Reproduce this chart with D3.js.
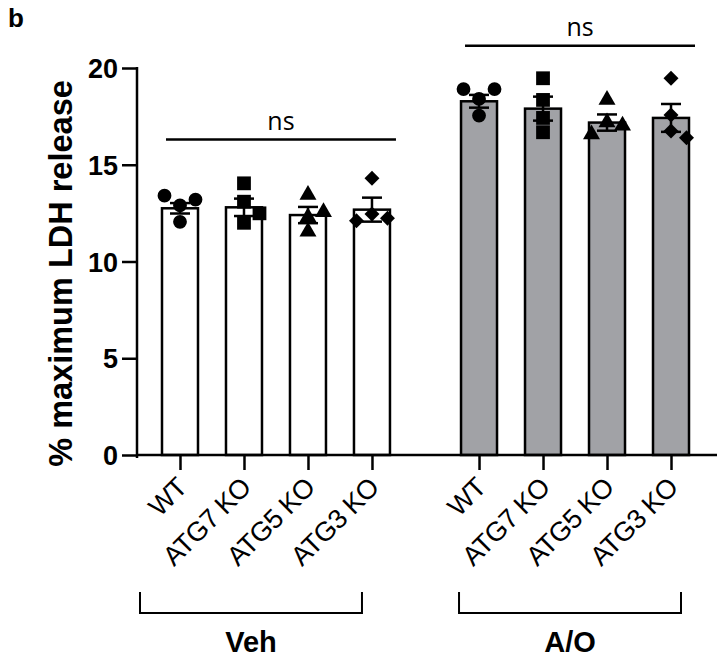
<!DOCTYPE html>
<html>
<head>
<meta charset="utf-8">
<script src="https://cdn.jsdelivr.net/npm/d3@7"></script>
<style>
  body { margin: 0; background: #fff; }
  text { font-family: Arial, "Liberation Sans", sans-serif; fill: #000; }
</style>
</head>
<body>
<div class="canvas"></div>
<script>
// data
const groups = ['Veh', 'A/O'];
const genotypes = ['WT', 'ATG7 KO', 'ATG5 KO', 'ATG3 KO'];
const yTicks = [0, 5, 10, 15, 20];

const vehMeans = [12.75, 12.8, 12.4, 12.68];
const vehSems = [0.27, 0.45, 0.42, 0.62];
const aoMeans = [18.28, 17.9, 17.18, 17.42];
const aoSems = [0.33, 0.62, 0.42, 0.72];

// individual replicates (one array per genotype)
const vehPoints = [
  [12.9, 13.2, 13.4, 12.05],
  [13.09, 12.49, 12.0, 14.04],
  [12.3, 12.55, 13.45, 11.55],
  [12.45, 12.23, 12.11, 14.3]
];
const aoPoints = [
  [18.4, 18.91, 18.91, 17.54],
  [19.47, 18.35, 17.42, 16.68],
  [17.19, 17.02, 16.57, 18.35],
  [17.57, 16.74, 16.4, 19.47]
];

// height of the "ns" comparison line for each group
const nsLevels = [16.3, 21.15];

const width = 728, height = 662;

const svg = d3.select('.canvas')
  .append('svg')
  .attr('width', width)
  .attr('height', height);

const y = d3.scaleLinear().domain([0, 20]).range([455, 68]);

const xGroup = d3.scaleBand()
  .domain(groups)
  .range([148, 703])
  .paddingInner(0.144)
  .paddingOuter(0);

const xInner = d3.scaleBand()
  .domain(genotypes)
  .range([0, xGroup.bandwidth()])
  .paddingInner(0.4375)
  .paddingOuter(0.21875);

const cx = (g, k) => xGroup(g) + xInner(k) + xInner.bandwidth() / 2;

const table = [];
groups.forEach((g, gi) => {
  const means = gi === 0 ? vehMeans : aoMeans;
  const sems = gi === 0 ? vehSems : aoSems;
  const pts = gi === 0 ? vehPoints : aoPoints;
  genotypes.forEach((k, ki) => {
    table.push({ group: g, geno: k, gi, ki, mean: means[ki], sem: sems[ki], points: pts[ki] });
  });
});

const fills = ['#ffffff', '#a1a2a6'];
const shapes = [d3.symbolCircle, d3.symbolSquare, d3.symbolTriangle, d3.symbolSquare];
const shapeSize = [150, 190, 125, 112];

// spread points that sit at nearly the same height
function spread(vals) {
  const placed = [];
  return vals.map(v => {
    const py = y(v);
    const used = placed.filter(p => Math.abs(p.y - py) < 13.5).map(p => p.slot);
    const slot = [0, 1, -1, 2, -2].find(s => !used.includes(s));
    placed.push({ y: py, slot });
    return { v, y: py, slot };
  });
}

// bars
svg.append('g')
  .selectAll('rect')
  .data(table)
  .join('rect')
  .attr('x', d => xGroup(d.group) + xInner(d.geno))
  .attr('y', d => y(d.mean))
  .attr('width', xInner.bandwidth())
  .attr('height', d => y(0) - y(d.mean))
  .attr('fill', d => fills[d.gi])
  .attr('stroke', '#000')
  .attr('stroke-width', 2.5);

// points
const pg = svg.append('g');
table.forEach(d => {
  const c = cx(d.group, d.geno);
  pg.selectAll(null)
    .data(spread(d.points))
    .join('path')
    .attr('d', d3.symbol().type(shapes[d.ki]).size(shapeSize[d.ki]))
    .attr('transform', p => `translate(${c + p.slot * 15.5}, ${p.y})` + (d.ki === 3 ? ' rotate(45)' : ''))
    .attr('fill', '#000');
});

// error bars (mean ± SEM)
const eg = svg.append('g')
  .attr('stroke', '#000')
  .attr('stroke-width', 2.5)
  .selectAll('g')
  .data(table)
  .join('g')
  .attr('transform', d => `translate(${cx(d.group, d.geno)}, 0)`);

eg.append('line')
  .attr('y1', d => y(d.mean - d.sem))
  .attr('y2', d => y(d.mean + d.sem));
eg.append('line')
  .attr('x1', -10).attr('x2', 10)
  .attr('y1', d => y(d.mean + d.sem))
  .attr('y2', d => y(d.mean + d.sem));
eg.append('line')
  .attr('x1', -10).attr('x2', 10)
  .attr('y1', d => y(d.mean - d.sem))
  .attr('y2', d => y(d.mean - d.sem));

// y axis
const yAxis = svg.append('g')
  .attr('transform', 'translate(137, 0)')
  .call(d3.axisLeft(y).tickValues(yTicks).tickSize(15).tickSizeOuter(0).tickPadding(4));
yAxis.select('.domain').remove();
yAxis.selectAll('.tick line').attr('stroke-width', 2.5);
yAxis.selectAll('.tick text')
  .attr('font-size', 27)
  .attr('font-weight', 'bold')
  .attr('dy', '0.36em');
yAxis.append('line')
  .attr('y1', y(20) - 1).attr('y2', y(0) + 3)
  .attr('stroke', '#000').attr('stroke-width', 2.5);

svg.append('text')
  .attr('transform', `translate(72, ${(y(0) + y(20)) / 2 + 12}) rotate(-90)`)
  .attr('text-anchor', 'middle')
  .attr('font-size', 32.5)
  .attr('font-weight', 'bold')
  .text('% maximum LDH release');

// x axis
const xKeys = table.map(d => d.group + '|' + d.geno);
const xCat = d3.scaleOrdinal().domain(xKeys).range(table.map(d => cx(d.group, d.geno)));

const xAxis = svg.append('g')
  .attr('transform', `translate(0, ${y(0)})`)
  .call(d3.axisBottom(xCat).tickSize(15).tickSizeOuter(0).tickFormat(k => k.split('|')[1]));
xAxis.select('.domain').remove();
xAxis.selectAll('.tick line').attr('stroke-width', 2.5);
xAxis.selectAll('.tick text')
  .attr('font-size', 27)
  .attr('letter-spacing', -0.6)
  .attr('text-anchor', 'end')
  .attr('x', 0).attr('y', 0).attr('dy', 0)
  .attr('transform', 'translate(8, 34) rotate(-45)');
xAxis.append('line')
  .attr('x1', 136).attr('x2', 717)
  .attr('stroke', '#000').attr('stroke-width', 2.5);

// ns lines
groups.forEach((g, gi) => {
  const x1 = cx(g, genotypes[0]) - 14;
  const x2 = cx(g, genotypes[genotypes.length - 1]) + 24;
  svg.append('line')
    .attr('x1', x1).attr('x2', x2)
    .attr('y1', y(nsLevels[gi])).attr('y2', y(nsLevels[gi]))
    .attr('stroke', '#000').attr('stroke-width', 2.5);
  svg.append('text')
    .attr('x', (x1 + x2) / 2)
    .attr('y', y(nsLevels[gi]) - 10)
    .attr('text-anchor', 'middle')
    .attr('font-size', 25)
    .style('font-family', '"Open Sans", sans-serif')
    .text('ns');
});

// group brackets (sit under the slanted labels)
groups.forEach((g, gi) => {
  const shift = gi === 0 ? -10 : 10;
  const x1 = cx(g, genotypes[0]) - 30 + shift;
  const x2 = cx(g, genotypes[genotypes.length - 1]) + shift;
  svg.append('path')
    .attr('d', `M${x1},592V613H${x2}V592`)
    .attr('fill', 'none')
    .attr('stroke', '#000')
    .attr('stroke-width', 2);
  svg.append('text')
    .attr('x', (x1 + x2) / 2)
    .attr('y', 652)
    .attr('text-anchor', 'middle')
    .attr('font-size', 29)
    .attr('font-weight', 'bold')
    .text(g);
});

svg.append('text')
  .attr('x', 8).attr('y', 27)
  .attr('font-size', 26)
  .attr('font-weight', 'bold')
  .text('b');
</script>
</body>
</html>
